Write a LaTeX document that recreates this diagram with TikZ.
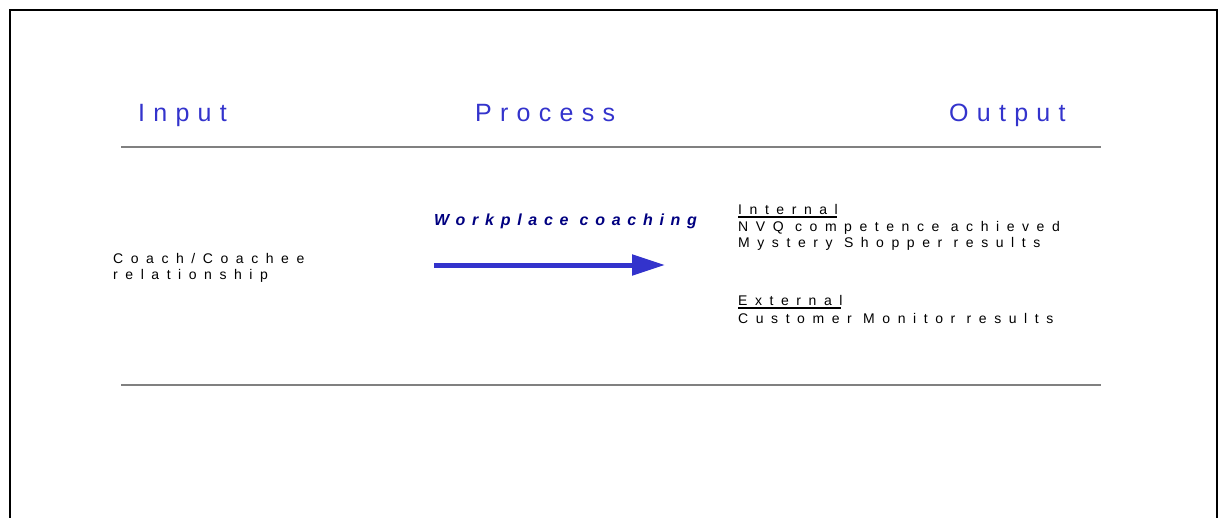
\documentclass[tikz,border=0pt]{standalone}
\usepackage{fontspec}
\setmainfont{Liberation Sans}
\newfontfamily\headfont[LetterSpace=33]{Liberation Sans}
\newfontfamily\bodyfont[LetterSpace=54]{Liberation Sans}
\newfontfamily\procfont[LetterSpace=42]{Liberation Sans}
\usepackage{xcolor}
\usepackage{tikz}
\usetikzlibrary{arrows.meta}
\definecolor{headblue}{HTML}{3333CC}
\definecolor{navy}{HTML}{000080}

\begin{document}
\begin{tikzpicture}[x=1pt, y=-1pt,
		header/.style={anchor=base west, inner sep=0pt, text=headblue, font=\headfont\fontsize{25}{30}\selectfont},
		body/.style={anchor=base west, inner sep=0pt, font=\bodyfont\fontsize{14}{16}\selectfont},
		rule/.style={gray, line width=1.8pt},
		uline/.style={line width=1.6pt}]
				\useasboundingbox (0,0) rectangle (1221,517);
				
				\draw [line width=2pt] (10,518) |- (1217,10) -- (1217,518);
				
				\node [header] (in) at (138,121) {Input};
				\node [header] (proc) at (475,121) {Process};
				\node [header] (out) at (949,121) {Output};
				
				\draw [rule] (121,147) -- (1101,147);
				\draw [rule] (121,385) -- (1101,385);
				
				\node [body] (coach) at (113,263) {Coach/Coachee};
				\node [body] (rel) at (113,279) {relationship};
				
				\node [anchor=base west, inner sep=0pt, text=navy, font=\procfont\fontsize{16}{19}\selectfont\bfseries\itshape] (wpc) at (434,225) {Workplace coaching};
				
				\coordinate (from) at (434,265);
				\coordinate (to) at (665,265);
				\draw [headblue, line width=5pt, -{Triangle[length=33pt,width=20pt]}] (from) -- (to);
				
				\node [body] (int) at (738,214) {Internal};
				\node [body] (nvq) at (738,231) {NVQ competence achieved};
				\node [body] (myst) at (738,247) {Mystery Shopper results};
				\node [body] (ext) at (738,305) {External};
				\node [body] (cust) at (738,323) {Customer Monitor results};
				
				\draw [uline] ([yshift=-3pt]int.base west) -- ([xshift=-1.5pt, yshift=-3pt]int.base east);
				\draw [uline] ([yshift=-3pt]ext.base west) -- ([xshift=-1.5pt, yshift=-3pt]ext.base east);
\end{tikzpicture}
\end{document}
